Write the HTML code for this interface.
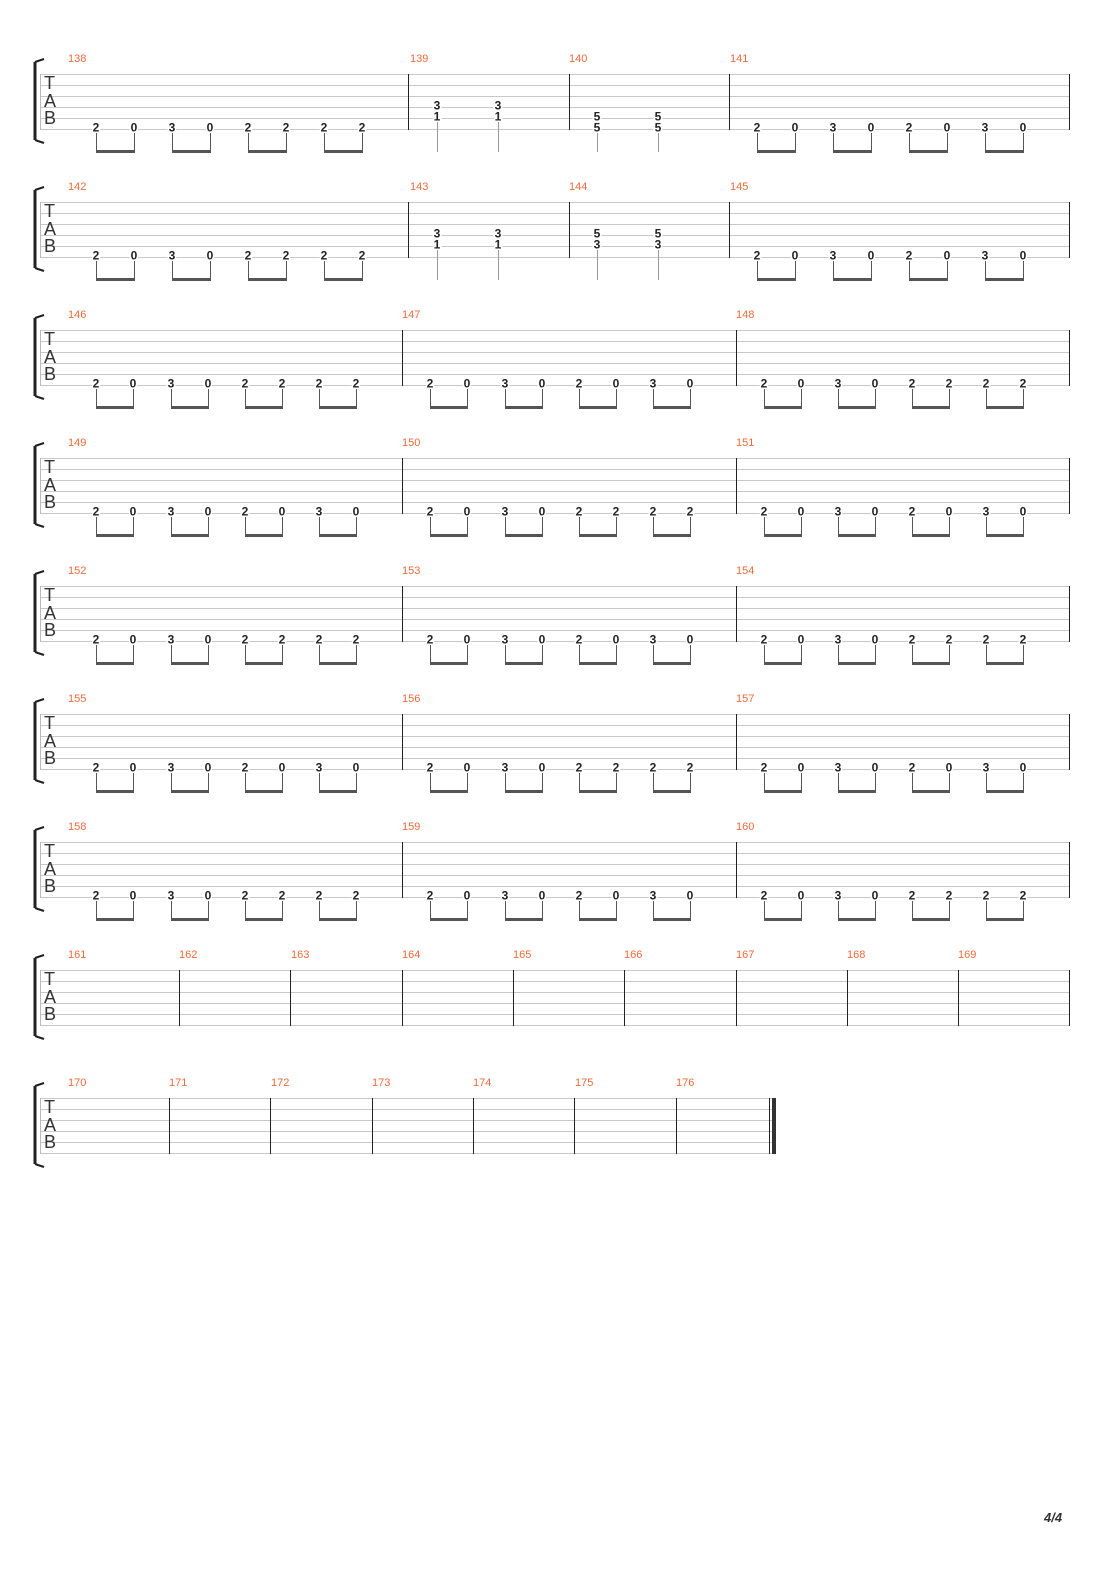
<!DOCTYPE html>
<html><head><meta charset="utf-8"><style>
html,body{margin:0;padding:0;background:#fff;}
svg{display:block;}
.mn{font:11px "Liberation Sans",sans-serif;fill:#f26a3a;}
.tab{font:18px "Liberation Sans",sans-serif;fill:#333;}
.n{font:bold 12px "Liberation Sans",sans-serif;fill:#222;text-anchor:middle;paint-order:stroke;stroke:#fff;stroke-width:3px;}
.pg{font:italic bold 13px "Liberation Sans",sans-serif;fill:#333;}
</style></head><body>
<svg width="1110" height="1570" viewBox="0 0 1110 1570" xmlns="http://www.w3.org/2000/svg">
<defs>
<g id="lines" stroke="#c8c8c8" stroke-width="1">
<path d="M40 0.5H1069M40 11.5H1069M40 22.5H1069M40 33.5H1069M40 44.5H1069M40 55.5H1069"/>
</g>
<g id="brk">
<path d="M35 -12V66" stroke="#222" stroke-width="3" fill="none"/>
<path d="M35 -12L44 -15M35 66L44 69" stroke="#222" stroke-width="2" fill="none"/>
<path d="M40.5 0V56" stroke="#bbb" stroke-width="1"/>
</g>
<g id="bA" fill="#555" stroke="#555">
</g>
</defs>

<!-- System 1 -->
<g transform="translate(0,74)">
<use href="#lines"/><use href="#brk"/>
<text class="tab" x="44" y="15">T</text><text class="tab" x="44" y="33">A</text><text class="tab" x="44" y="50">B</text>
<path d="M408.5 0V56M569.5 0V56M729.5 0V56M1069.5 0V56" stroke="#222"/>
<text class="mn" x="68" y="-12">138</text><text class="mn" x="410" y="-12">139</text><text class="mn" x="569" y="-12">140</text><text class="mn" x="730" y="-12">141</text>
<g stroke="#555" fill="none"><path d="M96.5 59V78M134.5 59V78M172.5 59V78M210.5 59V78M248.5 59V78M286.5 59V78M324.5 59V78M362.5 59V78M757.5 59V78M795.5 59V78M833.5 59V78M871.5 59V78M909.5 59V78M947.5 59V78M985.5 59V78M1023.5 59V78"/></g>
<g fill="#555"><rect x="96" y="76" width="39" height="3"/><rect x="172" y="76" width="39" height="3"/><rect x="248" y="76" width="39" height="3"/><rect x="324" y="76" width="39" height="3"/><rect x="757" y="76" width="39" height="3"/><rect x="833" y="76" width="39" height="3"/><rect x="909" y="76" width="39" height="3"/><rect x="985" y="76" width="39" height="3"/></g>
<path d="M437.5 48V78M498.5 48V78M597.5 59V78M658.5 59V78" stroke="#999"/>
<text class="n" x="96" y="57.5">2</text><text class="n" x="134" y="57.5">0</text><text class="n" x="172" y="57.5">3</text><text class="n" x="210" y="57.5">0</text><text class="n" x="248" y="57.5">2</text><text class="n" x="286" y="57.5">2</text><text class="n" x="324" y="57.5">2</text><text class="n" x="362" y="57.5">2</text>
<text class="n" x="437" y="35.5">3</text><text class="n" x="437" y="46.5">1</text><text class="n" x="498" y="35.5">3</text><text class="n" x="498" y="46.5">1</text>
<text class="n" x="597" y="46.5">5</text><text class="n" x="597" y="57.5">5</text><text class="n" x="658" y="46.5">5</text><text class="n" x="658" y="57.5">5</text>
<text class="n" x="757" y="57.5">2</text><text class="n" x="795" y="57.5">0</text><text class="n" x="833" y="57.5">3</text><text class="n" x="871" y="57.5">0</text><text class="n" x="909" y="57.5">2</text><text class="n" x="947" y="57.5">0</text><text class="n" x="985" y="57.5">3</text><text class="n" x="1023" y="57.5">0</text>
</g>

<!-- System 2 -->
<g transform="translate(0,202)">
<use href="#lines"/><use href="#brk"/>
<text class="tab" x="44" y="15">T</text><text class="tab" x="44" y="33">A</text><text class="tab" x="44" y="50">B</text>
<path d="M408.5 0V56M569.5 0V56M729.5 0V56M1069.5 0V56" stroke="#222"/>
<text class="mn" x="68" y="-12">142</text><text class="mn" x="410" y="-12">143</text><text class="mn" x="569" y="-12">144</text><text class="mn" x="730" y="-12">145</text>
<g stroke="#555" fill="none"><path d="M96.5 59V78M134.5 59V78M172.5 59V78M210.5 59V78M248.5 59V78M286.5 59V78M324.5 59V78M362.5 59V78M757.5 59V78M795.5 59V78M833.5 59V78M871.5 59V78M909.5 59V78M947.5 59V78M985.5 59V78M1023.5 59V78"/></g>
<g fill="#555"><rect x="96" y="76" width="39" height="3"/><rect x="172" y="76" width="39" height="3"/><rect x="248" y="76" width="39" height="3"/><rect x="324" y="76" width="39" height="3"/><rect x="757" y="76" width="39" height="3"/><rect x="833" y="76" width="39" height="3"/><rect x="909" y="76" width="39" height="3"/><rect x="985" y="76" width="39" height="3"/></g>
<path d="M437.5 48V78M498.5 48V78M597.5 48V78M658.5 48V78" stroke="#999"/>
<text class="n" x="96" y="57.5">2</text><text class="n" x="134" y="57.5">0</text><text class="n" x="172" y="57.5">3</text><text class="n" x="210" y="57.5">0</text><text class="n" x="248" y="57.5">2</text><text class="n" x="286" y="57.5">2</text><text class="n" x="324" y="57.5">2</text><text class="n" x="362" y="57.5">2</text>
<text class="n" x="437" y="35.5">3</text><text class="n" x="437" y="46.5">1</text><text class="n" x="498" y="35.5">3</text><text class="n" x="498" y="46.5">1</text>
<text class="n" x="597" y="35.5">5</text><text class="n" x="597" y="46.5">3</text><text class="n" x="658" y="35.5">5</text><text class="n" x="658" y="46.5">3</text>
<text class="n" x="757" y="57.5">2</text><text class="n" x="795" y="57.5">0</text><text class="n" x="833" y="57.5">3</text><text class="n" x="871" y="57.5">0</text><text class="n" x="909" y="57.5">2</text><text class="n" x="947" y="57.5">0</text><text class="n" x="985" y="57.5">3</text><text class="n" x="1023" y="57.5">0</text>
</g>

<!-- Systems 3-7 common: barlines 402, 736 -->
<!-- System 3 -->
<g transform="translate(0,330)">
<use href="#lines"/><use href="#brk"/>
<text class="tab" x="44" y="15">T</text><text class="tab" x="44" y="33">A</text><text class="tab" x="44" y="50">B</text>
<path d="M402.5 0V56M736.5 0V56M1069.5 0V56" stroke="#222"/>
<text class="mn" x="68" y="-12">146</text><text class="mn" x="402" y="-12">147</text><text class="mn" x="736" y="-12">148</text>
<path d="M96.5 59V78M133.5 59V78M171.5 59V78M208.5 59V78M245.5 59V78M282.5 59V78M319.5 59V78M356.5 59V78M430.5 59V78M467.5 59V78M505.5 59V78M542.5 59V78M579.5 59V78M616.5 59V78M653.5 59V78M690.5 59V78M764.5 59V78M801.5 59V78M838.5 59V78M875.5 59V78M912.5 59V78M949.5 59V78M986.5 59V78M1023.5 59V78" stroke="#555"/>
<g fill="#555"><rect x="96" y="76" width="38" height="3"/><rect x="171" y="76" width="38" height="3"/><rect x="245" y="76" width="38" height="3"/><rect x="319" y="76" width="38" height="3"/><rect x="430" y="76" width="38" height="3"/><rect x="505" y="76" width="38" height="3"/><rect x="579" y="76" width="38" height="3"/><rect x="653" y="76" width="38" height="3"/><rect x="764" y="76" width="38" height="3"/><rect x="838" y="76" width="38" height="3"/><rect x="912" y="76" width="38" height="3"/><rect x="986" y="76" width="38" height="3"/></g>
<text class="n" x="96" y="57.5">2</text><text class="n" x="133" y="57.5">0</text><text class="n" x="171" y="57.5">3</text><text class="n" x="208" y="57.5">0</text><text class="n" x="245" y="57.5">2</text><text class="n" x="282" y="57.5">2</text><text class="n" x="319" y="57.5">2</text><text class="n" x="356" y="57.5">2</text>
<text class="n" x="430" y="57.5">2</text><text class="n" x="467" y="57.5">0</text><text class="n" x="505" y="57.5">3</text><text class="n" x="542" y="57.5">0</text><text class="n" x="579" y="57.5">2</text><text class="n" x="616" y="57.5">0</text><text class="n" x="653" y="57.5">3</text><text class="n" x="690" y="57.5">0</text>
<text class="n" x="764" y="57.5">2</text><text class="n" x="801" y="57.5">0</text><text class="n" x="838" y="57.5">3</text><text class="n" x="875" y="57.5">0</text><text class="n" x="912" y="57.5">2</text><text class="n" x="949" y="57.5">2</text><text class="n" x="986" y="57.5">2</text><text class="n" x="1023" y="57.5">2</text>
</g>

<!-- System 4 -->
<g transform="translate(0,458)">
<use href="#lines"/><use href="#brk"/>
<text class="tab" x="44" y="15">T</text><text class="tab" x="44" y="33">A</text><text class="tab" x="44" y="50">B</text>
<path d="M402.5 0V56M736.5 0V56M1069.5 0V56" stroke="#222"/>
<text class="mn" x="68" y="-12">149</text><text class="mn" x="402" y="-12">150</text><text class="mn" x="736" y="-12">151</text>
<path d="M96.5 59V78M133.5 59V78M171.5 59V78M208.5 59V78M245.5 59V78M282.5 59V78M319.5 59V78M356.5 59V78M430.5 59V78M467.5 59V78M505.5 59V78M542.5 59V78M579.5 59V78M616.5 59V78M653.5 59V78M690.5 59V78M764.5 59V78M801.5 59V78M838.5 59V78M875.5 59V78M912.5 59V78M949.5 59V78M986.5 59V78M1023.5 59V78" stroke="#555"/>
<g fill="#555"><rect x="96" y="76" width="38" height="3"/><rect x="171" y="76" width="38" height="3"/><rect x="245" y="76" width="38" height="3"/><rect x="319" y="76" width="38" height="3"/><rect x="430" y="76" width="38" height="3"/><rect x="505" y="76" width="38" height="3"/><rect x="579" y="76" width="38" height="3"/><rect x="653" y="76" width="38" height="3"/><rect x="764" y="76" width="38" height="3"/><rect x="838" y="76" width="38" height="3"/><rect x="912" y="76" width="38" height="3"/><rect x="986" y="76" width="38" height="3"/></g>
<text class="n" x="96" y="57.5">2</text><text class="n" x="133" y="57.5">0</text><text class="n" x="171" y="57.5">3</text><text class="n" x="208" y="57.5">0</text><text class="n" x="245" y="57.5">2</text><text class="n" x="282" y="57.5">0</text><text class="n" x="319" y="57.5">3</text><text class="n" x="356" y="57.5">0</text>
<text class="n" x="430" y="57.5">2</text><text class="n" x="467" y="57.5">0</text><text class="n" x="505" y="57.5">3</text><text class="n" x="542" y="57.5">0</text><text class="n" x="579" y="57.5">2</text><text class="n" x="616" y="57.5">2</text><text class="n" x="653" y="57.5">2</text><text class="n" x="690" y="57.5">2</text>
<text class="n" x="764" y="57.5">2</text><text class="n" x="801" y="57.5">0</text><text class="n" x="838" y="57.5">3</text><text class="n" x="875" y="57.5">0</text><text class="n" x="912" y="57.5">2</text><text class="n" x="949" y="57.5">0</text><text class="n" x="986" y="57.5">3</text><text class="n" x="1023" y="57.5">0</text>
</g>

<!-- System 5 -->
<g transform="translate(0,586)">
<use href="#lines"/><use href="#brk"/>
<text class="tab" x="44" y="15">T</text><text class="tab" x="44" y="33">A</text><text class="tab" x="44" y="50">B</text>
<path d="M402.5 0V56M736.5 0V56M1069.5 0V56" stroke="#222"/>
<text class="mn" x="68" y="-12">152</text><text class="mn" x="402" y="-12">153</text><text class="mn" x="736" y="-12">154</text>
<path d="M96.5 59V78M133.5 59V78M171.5 59V78M208.5 59V78M245.5 59V78M282.5 59V78M319.5 59V78M356.5 59V78M430.5 59V78M467.5 59V78M505.5 59V78M542.5 59V78M579.5 59V78M616.5 59V78M653.5 59V78M690.5 59V78M764.5 59V78M801.5 59V78M838.5 59V78M875.5 59V78M912.5 59V78M949.5 59V78M986.5 59V78M1023.5 59V78" stroke="#555"/>
<g fill="#555"><rect x="96" y="76" width="38" height="3"/><rect x="171" y="76" width="38" height="3"/><rect x="245" y="76" width="38" height="3"/><rect x="319" y="76" width="38" height="3"/><rect x="430" y="76" width="38" height="3"/><rect x="505" y="76" width="38" height="3"/><rect x="579" y="76" width="38" height="3"/><rect x="653" y="76" width="38" height="3"/><rect x="764" y="76" width="38" height="3"/><rect x="838" y="76" width="38" height="3"/><rect x="912" y="76" width="38" height="3"/><rect x="986" y="76" width="38" height="3"/></g>
<text class="n" x="96" y="57.5">2</text><text class="n" x="133" y="57.5">0</text><text class="n" x="171" y="57.5">3</text><text class="n" x="208" y="57.5">0</text><text class="n" x="245" y="57.5">2</text><text class="n" x="282" y="57.5">2</text><text class="n" x="319" y="57.5">2</text><text class="n" x="356" y="57.5">2</text>
<text class="n" x="430" y="57.5">2</text><text class="n" x="467" y="57.5">0</text><text class="n" x="505" y="57.5">3</text><text class="n" x="542" y="57.5">0</text><text class="n" x="579" y="57.5">2</text><text class="n" x="616" y="57.5">0</text><text class="n" x="653" y="57.5">3</text><text class="n" x="690" y="57.5">0</text>
<text class="n" x="764" y="57.5">2</text><text class="n" x="801" y="57.5">0</text><text class="n" x="838" y="57.5">3</text><text class="n" x="875" y="57.5">0</text><text class="n" x="912" y="57.5">2</text><text class="n" x="949" y="57.5">2</text><text class="n" x="986" y="57.5">2</text><text class="n" x="1023" y="57.5">2</text>
</g>

<!-- System 6 -->
<g transform="translate(0,714)">
<use href="#lines"/><use href="#brk"/>
<text class="tab" x="44" y="15">T</text><text class="tab" x="44" y="33">A</text><text class="tab" x="44" y="50">B</text>
<path d="M402.5 0V56M736.5 0V56M1069.5 0V56" stroke="#222"/>
<text class="mn" x="68" y="-12">155</text><text class="mn" x="402" y="-12">156</text><text class="mn" x="736" y="-12">157</text>
<path d="M96.5 59V78M133.5 59V78M171.5 59V78M208.5 59V78M245.5 59V78M282.5 59V78M319.5 59V78M356.5 59V78M430.5 59V78M467.5 59V78M505.5 59V78M542.5 59V78M579.5 59V78M616.5 59V78M653.5 59V78M690.5 59V78M764.5 59V78M801.5 59V78M838.5 59V78M875.5 59V78M912.5 59V78M949.5 59V78M986.5 59V78M1023.5 59V78" stroke="#555"/>
<g fill="#555"><rect x="96" y="76" width="38" height="3"/><rect x="171" y="76" width="38" height="3"/><rect x="245" y="76" width="38" height="3"/><rect x="319" y="76" width="38" height="3"/><rect x="430" y="76" width="38" height="3"/><rect x="505" y="76" width="38" height="3"/><rect x="579" y="76" width="38" height="3"/><rect x="653" y="76" width="38" height="3"/><rect x="764" y="76" width="38" height="3"/><rect x="838" y="76" width="38" height="3"/><rect x="912" y="76" width="38" height="3"/><rect x="986" y="76" width="38" height="3"/></g>
<text class="n" x="96" y="57.5">2</text><text class="n" x="133" y="57.5">0</text><text class="n" x="171" y="57.5">3</text><text class="n" x="208" y="57.5">0</text><text class="n" x="245" y="57.5">2</text><text class="n" x="282" y="57.5">0</text><text class="n" x="319" y="57.5">3</text><text class="n" x="356" y="57.5">0</text>
<text class="n" x="430" y="57.5">2</text><text class="n" x="467" y="57.5">0</text><text class="n" x="505" y="57.5">3</text><text class="n" x="542" y="57.5">0</text><text class="n" x="579" y="57.5">2</text><text class="n" x="616" y="57.5">2</text><text class="n" x="653" y="57.5">2</text><text class="n" x="690" y="57.5">2</text>
<text class="n" x="764" y="57.5">2</text><text class="n" x="801" y="57.5">0</text><text class="n" x="838" y="57.5">3</text><text class="n" x="875" y="57.5">0</text><text class="n" x="912" y="57.5">2</text><text class="n" x="949" y="57.5">0</text><text class="n" x="986" y="57.5">3</text><text class="n" x="1023" y="57.5">0</text>
</g>

<!-- System 7 -->
<g transform="translate(0,842)">
<use href="#lines"/><use href="#brk"/>
<text class="tab" x="44" y="15">T</text><text class="tab" x="44" y="33">A</text><text class="tab" x="44" y="50">B</text>
<path d="M402.5 0V56M736.5 0V56M1069.5 0V56" stroke="#222"/>
<text class="mn" x="68" y="-12">158</text><text class="mn" x="402" y="-12">159</text><text class="mn" x="736" y="-12">160</text>
<path d="M96.5 59V78M133.5 59V78M171.5 59V78M208.5 59V78M245.5 59V78M282.5 59V78M319.5 59V78M356.5 59V78M430.5 59V78M467.5 59V78M505.5 59V78M542.5 59V78M579.5 59V78M616.5 59V78M653.5 59V78M690.5 59V78M764.5 59V78M801.5 59V78M838.5 59V78M875.5 59V78M912.5 59V78M949.5 59V78M986.5 59V78M1023.5 59V78" stroke="#555"/>
<g fill="#555"><rect x="96" y="76" width="38" height="3"/><rect x="171" y="76" width="38" height="3"/><rect x="245" y="76" width="38" height="3"/><rect x="319" y="76" width="38" height="3"/><rect x="430" y="76" width="38" height="3"/><rect x="505" y="76" width="38" height="3"/><rect x="579" y="76" width="38" height="3"/><rect x="653" y="76" width="38" height="3"/><rect x="764" y="76" width="38" height="3"/><rect x="838" y="76" width="38" height="3"/><rect x="912" y="76" width="38" height="3"/><rect x="986" y="76" width="38" height="3"/></g>
<text class="n" x="96" y="57.5">2</text><text class="n" x="133" y="57.5">0</text><text class="n" x="171" y="57.5">3</text><text class="n" x="208" y="57.5">0</text><text class="n" x="245" y="57.5">2</text><text class="n" x="282" y="57.5">2</text><text class="n" x="319" y="57.5">2</text><text class="n" x="356" y="57.5">2</text>
<text class="n" x="430" y="57.5">2</text><text class="n" x="467" y="57.5">0</text><text class="n" x="505" y="57.5">3</text><text class="n" x="542" y="57.5">0</text><text class="n" x="579" y="57.5">2</text><text class="n" x="616" y="57.5">0</text><text class="n" x="653" y="57.5">3</text><text class="n" x="690" y="57.5">0</text>
<text class="n" x="764" y="57.5">2</text><text class="n" x="801" y="57.5">0</text><text class="n" x="838" y="57.5">3</text><text class="n" x="875" y="57.5">0</text><text class="n" x="912" y="57.5">2</text><text class="n" x="949" y="57.5">2</text><text class="n" x="986" y="57.5">2</text><text class="n" x="1023" y="57.5">2</text>
</g>

<!-- System 8 -->
<g transform="translate(0,970)">
<use href="#lines"/><use href="#brk"/>
<text class="tab" x="44" y="15">T</text><text class="tab" x="44" y="33">A</text><text class="tab" x="44" y="50">B</text>
<path d="M179.5 0V56M290.5 0V56M402.5 0V56M513.5 0V56M624.5 0V56M736.5 0V56M847.5 0V56M958.5 0V56M1069.5 0V56" stroke="#222"/>
<text class="mn" x="68" y="-12">161</text><text class="mn" x="179" y="-12">162</text><text class="mn" x="291" y="-12">163</text><text class="mn" x="402" y="-12">164</text><text class="mn" x="513" y="-12">165</text><text class="mn" x="624" y="-12">166</text><text class="mn" x="736" y="-12">167</text><text class="mn" x="847" y="-12">168</text><text class="mn" x="958" y="-12">169</text>
</g>

<!-- System 9 -->
<g transform="translate(0,1098)">
<path d="M40 0.5H776M40 11.5H776M40 22.5H776M40 33.5H776M40 44.5H776M40 55.5H776" stroke="#c8c8c8"/>
<use href="#brk"/>
<text class="tab" x="44" y="15">T</text><text class="tab" x="44" y="33">A</text><text class="tab" x="44" y="50">B</text>
<path d="M169.5 0V56M270.5 0V56M372.5 0V56M473.5 0V56M574.5 0V56M676.5 0V56M769.5 0V56" stroke="#222"/>
<rect x="772" y="0" width="4" height="56" fill="#333"/>
<text class="mn" x="68" y="-12">170</text><text class="mn" x="169" y="-12">171</text><text class="mn" x="271" y="-12">172</text><text class="mn" x="372" y="-12">173</text><text class="mn" x="473" y="-12">174</text><text class="mn" x="575" y="-12">175</text><text class="mn" x="676" y="-12">176</text>
</g>

<text class="pg" x="1044" y="1522">4/4</text>
</svg>
</body></html>
